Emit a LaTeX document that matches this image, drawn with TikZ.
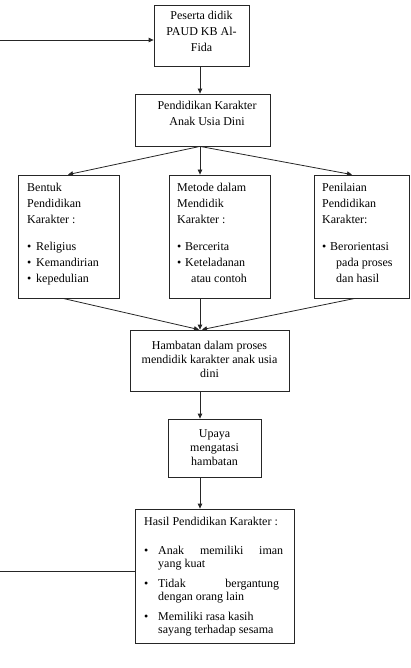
\documentclass[tikz,border=0pt]{standalone}
\usepackage{fontspec}
\setmainfont{Liberation Serif}
\usetikzlibrary{arrows.meta}
\begin{document}
\begin{tikzpicture}[x=1pt,y=-1pt,
  box/.style={draw=black!85, line width=0.8pt, inner sep=0pt},
  txt/.style={inner sep=0pt, font=\fontsize{12}{16}\selectfont},
  txts/.style={inner sep=0pt, font=\fontsize{12}{14}\selectfont},
  arr/.style={draw=black!85, line width=0.8pt, -{Triangle[length=5pt,width=4.5pt]}},
  conn/.style={draw=black!85, line width=0.8pt}]
\useasboundingbox (0,0) rectangle (410,668);
% boxes
\node[box, minimum width=95pt, minimum height=61pt] (b1) at (201.5,35.5) {};
\node[box, minimum width=135pt, minimum height=52pt] (b2) at (202.5,120) {};
\node[box, minimum width=101pt, minimum height=123pt] (bL) at (68.5,236.5) {};
\node[box, minimum width=101pt, minimum height=123pt] (bM) at (219.5,236.5) {};
\node[box, minimum width=95pt, minimum height=123pt] (bR) at (361.5,236.5) {};
\node[box, minimum width=159pt, minimum height=61pt] (hb) at (209.5,360.5) {};
\node[box, minimum width=93pt, minimum height=58pt] (up) at (214.5,448) {};
\node[box, minimum width=159pt, minimum height=134pt] (hs) at (214.5,576) {};
% texts (anchor base = baseline of the last line)
\node[txt, align=center, anchor=base] (t1) at (201.5,52) {Peserta didik\\PAUD KB Al-\\Fida};
\node[txt, align=center, anchor=base] (t2) at (207,126) {Pendidikan Karakter\\Anak Usia Dini};
\node[txt, align=left, anchor=base west] (tL) at (27,282) {Bentuk\\Pendidikan\\Karakter :\\[11pt]\makebox[9pt][l]{\textbullet}Religius\\\makebox[9pt][l]{\textbullet}Kemandirian\\\makebox[9pt][l]{\textbullet}kepedulian};
\node[txt, align=left, anchor=base west] (tM) at (177,282) {Metode dalam\\Mendidik\\Karakter :\\[11pt]\makebox[8pt][l]{\textbullet}Bercerita\\\makebox[8pt][l]{\textbullet}Keteladanan\\\hspace*{14pt}atau contoh};
\node[txt, align=left, anchor=base west] (tR) at (322,282) {Penilaian\\Pendidikan\\Karakter:\\[11pt]\makebox[8pt][l]{\textbullet}Berorientasi\\\hspace*{14pt}pada proses\\\hspace*{14pt}dan hasil};
\node[txts, align=center, anchor=base] (th) at (209.5,377) {Hambatan dalam proses\\mendidik karakter anak usia\\dini};
\node[txts, align=center, anchor=base] (tu) at (214.5,465) {Upaya\\mengatasi\\hambatan};
\node[inner sep=0pt, font=\fontsize{12}{13.5}\selectfont, align=left, anchor=base west] (ths) at (144,633.5) {Hasil Pendidikan Karakter :\\[15.5pt]
\makebox[14pt][l]{\textbullet}\makebox[125pt][s]{Anak memiliki iman}\\
\hspace*{14pt}yang kuat\\[6pt]
\makebox[14pt][l]{\textbullet}\makebox[121pt][s]{Tidak bergantung}\\
\hspace*{14pt}dengan orang lain\\[6pt]
\makebox[14pt][l]{\textbullet}Memiliki rasa kasih\\
\hspace*{14pt}sayang terhadap sesama};
% connectors
\coordinate (ax) at (200,0);
\coordinate (inT) at (0,40);
\coordinate (inB) at (0,571);
\draw[arr] (inT) -- (inT -| b1.west);
\draw[arr] (b1.south -| ax) -- (b2.north -| ax);
\draw[arr] (b2.south -| ax) -- ([xshift=-0.5pt]bL.north);
\draw[arr] (b2.south -| ax) -- (bM.north -| ax);
\draw[arr] (b2.south -| ax) -- ([xshift=-9.5pt]bR.north);
\draw[arr] ([xshift=-5.5pt]bL.south) -- ([xshift=-1pt]hb.north -| ax);
\draw[arr] (bM.south -| ax) -- (hb.north -| ax);
\draw[arr] ([xshift=-6.5pt]bR.south) -- ([xshift=2pt]hb.north -| ax);
\draw[arr] (hb.south -| ax) -- (up.north -| ax);
\draw[arr] (up.south -| ax) -- (hs.north -| ax);
\draw[conn] (inB) -- (inB -| hs.west);
\end{tikzpicture}
\end{document}
